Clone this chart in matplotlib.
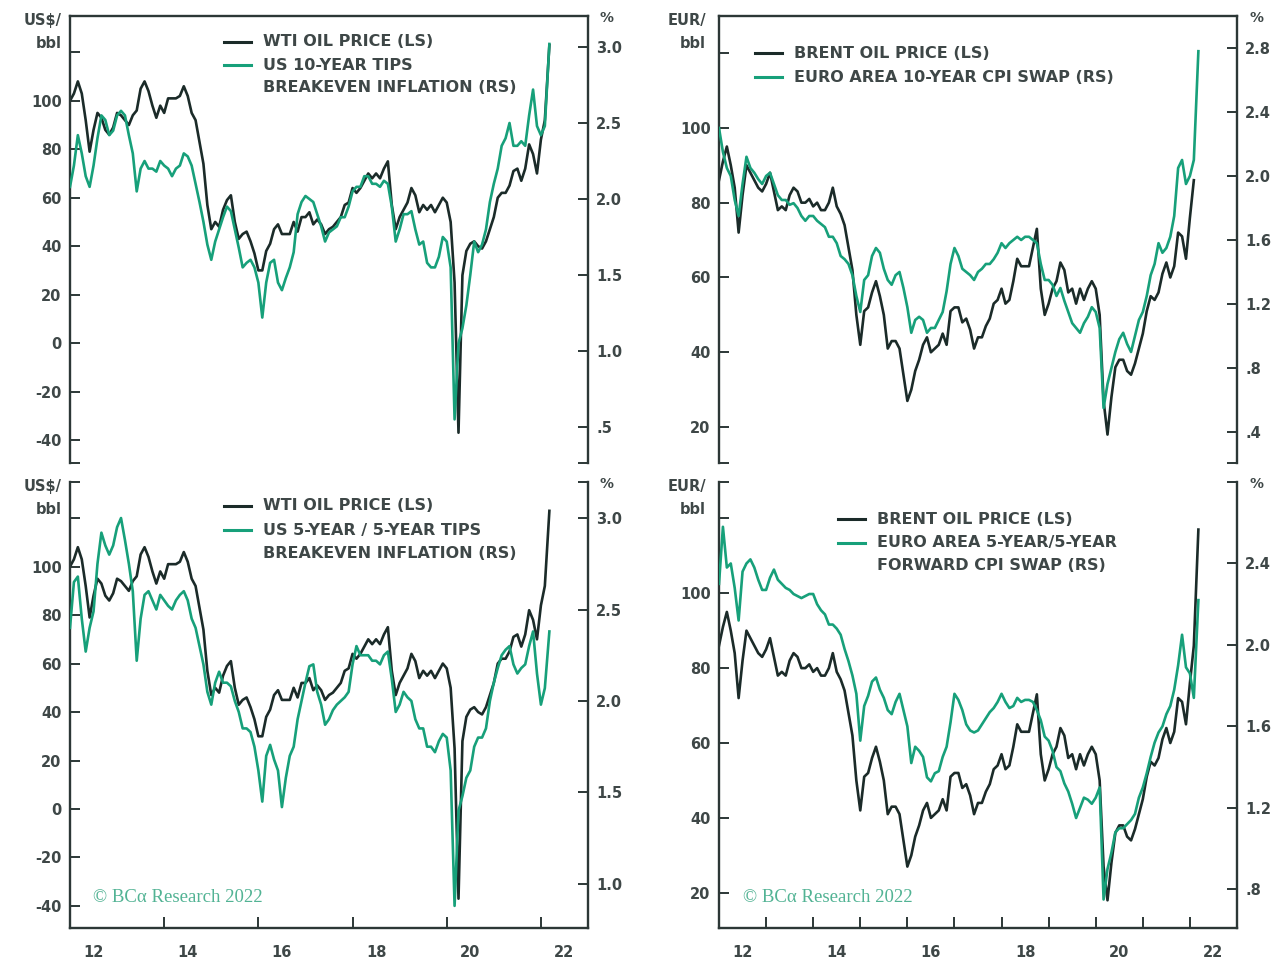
"""
Oil prices vs long-term inflation expectations, 2x2 panel chart (BCA style).
Writes out.png at 1286x961.
"""
import numpy as np
import matplotlib
matplotlib.use("Agg")
import matplotlib.pyplot as plt
from matplotlib.lines import Line2D

W, H = 1286, 961
DARK, GREEN = "#1b2b29", "#17a07a"
INK, SPINE, COPY = "#3e4747", "#2c3736", "#52b394"

# monthly readings Jan-2012 .. Feb-2022; the last entry is the early-Mar-2022 spike
months = np.append(2012 + np.arange(122) / 12, 2022.18)

wti = [100, 103, 108, 103, 92, 79, 88, 95, 93, 88, 86, 89,
       95, 94, 92, 90, 94, 96, 105, 108, 104, 98, 93, 98,
       95, 101, 101, 101, 102, 106, 102, 95, 92, 83, 74, 57,
       47, 50, 48, 55, 59, 61, 50, 43, 45, 46, 42, 37,
       30, 30, 38, 41, 47, 49, 45, 45, 45, 50, 46, 52,
       52, 54, 49, 51, 49, 45, 47, 48, 50, 52, 57, 58,
       64, 62, 64, 67, 70, 68, 70, 68, 72, 75, 57, 47,
       52, 55, 58, 64, 61, 54, 57, 55, 57, 54, 57, 60,
       58, 50, 25, -37, 28, 38, 41, 42, 40, 39, 42, 47,
       52, 60, 62, 62, 65, 71, 72, 67, 72, 82, 78, 70,
       84, 92, 123]

brent_eur = [86, 91, 95, 90, 84, 72, 82, 90, 88, 86, 84, 83,
             85, 88, 83, 78, 79, 78, 82, 84, 83, 80, 80, 81,
             79, 80, 78, 78, 80, 84, 79, 77, 74, 68, 62, 50,
             42, 51, 52, 56, 59, 55, 50, 41, 43, 43, 41, 34,
             27, 30, 35, 38, 42, 44, 40, 41, 42, 45, 42, 51,
             52, 52, 48, 49, 46, 41, 44, 44, 47, 49, 53, 54,
             57, 53, 54, 59, 65, 63, 63, 63, 68, 73, 57, 50,
             53, 57, 59, 64, 62, 56, 57, 53, 57, 54, 57, 59,
             57, 50, 27, 18, 28, 36, 38, 38, 35, 34, 37, 41,
             45, 51, 55, 54, 56, 61, 64, 60, 63, 72, 71, 65,
             76, 86, 117]

us_10y_be = [2.08, 2.22, 2.42, 2.30, 2.15, 2.08, 2.22, 2.40, 2.55, 2.52, 2.42, 2.45,
             2.55, 2.58, 2.55, 2.42, 2.30, 2.05, 2.20, 2.25, 2.20, 2.20, 2.18, 2.25,
             2.22, 2.20, 2.15, 2.20, 2.22, 2.30, 2.28, 2.22, 2.10, 1.98, 1.85, 1.70,
             1.60, 1.72, 1.80, 1.88, 1.95, 1.92, 1.80, 1.68, 1.55, 1.58, 1.60, 1.55,
             1.45, 1.22, 1.45, 1.58, 1.60, 1.45, 1.40, 1.48, 1.55, 1.65, 1.90, 1.98,
             2.02, 2.00, 1.98, 1.90, 1.82, 1.72, 1.78, 1.80, 1.82, 1.88, 1.88, 1.95,
             2.05, 2.08, 2.08, 2.15, 2.15, 2.10, 2.10, 2.08, 2.12, 2.10, 1.95, 1.72,
             1.80, 1.90, 1.90, 1.92, 1.80, 1.70, 1.72, 1.58, 1.55, 1.55, 1.62, 1.75,
             1.72, 1.55, 0.55, 1.05, 1.15, 1.30, 1.50, 1.72, 1.65, 1.70, 1.80, 1.98,
             2.10, 2.20, 2.35, 2.40, 2.50, 2.35, 2.35, 2.38, 2.35, 2.55, 2.72, 2.48,
             2.42, 2.48, 3.02]

us_5y5y_be = [2.40, 2.65, 2.68, 2.45, 2.27, 2.40, 2.49, 2.75, 2.92, 2.85, 2.80, 2.85,
              2.95, 3.00, 2.88, 2.75, 2.60, 2.22, 2.45, 2.58, 2.60, 2.55, 2.50, 2.58,
              2.55, 2.52, 2.50, 2.55, 2.58, 2.60, 2.55, 2.45, 2.40, 2.30, 2.20, 2.05,
              1.98, 2.10, 2.16, 2.10, 2.10, 2.08, 2.00, 1.94, 1.85, 1.85, 1.83, 1.75,
              1.62, 1.45, 1.70, 1.76, 1.68, 1.62, 1.42, 1.58, 1.70, 1.75, 1.90, 2.00,
              2.10, 2.19, 2.20, 2.05, 1.98, 1.87, 1.90, 1.95, 1.98, 2.00, 2.02, 2.05,
              2.20, 2.30, 2.25, 2.25, 2.25, 2.22, 2.22, 2.20, 2.25, 2.27, 2.12, 1.94,
              1.98, 2.05, 2.02, 2.00, 1.90, 1.85, 1.85, 1.75, 1.75, 1.72, 1.78, 1.82,
              1.80, 1.62, 0.88, 1.40, 1.48, 1.58, 1.62, 1.75, 1.80, 1.80, 1.85, 2.00,
              2.10, 2.18, 2.25, 2.28, 2.30, 2.20, 2.15, 2.18, 2.20, 2.30, 2.38, 2.15,
              1.98, 2.07, 2.38]

ea_10y_swap = [2.30, 2.15, 2.05, 2.00, 1.85, 1.75, 1.95, 2.12, 2.05, 2.02, 1.98, 1.95,
               2.00, 2.02, 1.95, 1.88, 1.85, 1.85, 1.82, 1.83, 1.80, 1.75, 1.72, 1.75,
               1.75, 1.72, 1.70, 1.68, 1.62, 1.62, 1.58, 1.50, 1.48, 1.45, 1.38, 1.25,
               1.15, 1.35, 1.38, 1.50, 1.55, 1.52, 1.42, 1.35, 1.32, 1.38, 1.40, 1.30,
               1.18, 1.02, 1.10, 1.12, 1.10, 1.02, 1.05, 1.05, 1.10, 1.15, 1.28, 1.45,
               1.55, 1.50, 1.42, 1.40, 1.38, 1.35, 1.40, 1.42, 1.45, 1.45, 1.48, 1.52,
               1.58, 1.55, 1.58, 1.60, 1.62, 1.60, 1.62, 1.62, 1.60, 1.58, 1.45, 1.35,
               1.35, 1.32, 1.25, 1.30, 1.22, 1.15, 1.08, 1.05, 1.02, 1.08, 1.12, 1.18,
               1.15, 1.05, 0.55, 0.70, 0.80, 0.90, 0.98, 1.02, 0.95, 0.90, 1.00, 1.10,
               1.15, 1.25, 1.38, 1.45, 1.58, 1.52, 1.55, 1.62, 1.75, 2.05, 2.10, 1.95,
               2.00, 2.10, 2.78]

ea_5y5y_swap = [2.30, 2.58, 2.38, 2.40, 2.28, 2.12, 2.36, 2.40, 2.42, 2.38, 2.32, 2.27,
                2.27, 2.33, 2.37, 2.32, 2.30, 2.28, 2.27, 2.25, 2.24, 2.23, 2.24, 2.25,
                2.25, 2.20, 2.17, 2.15, 2.10, 2.10, 2.08, 2.05, 1.98, 1.92, 1.85, 1.76,
                1.53, 1.70, 1.75, 1.82, 1.84, 1.78, 1.74, 1.68, 1.66, 1.72, 1.76, 1.68,
                1.60, 1.42, 1.50, 1.48, 1.45, 1.35, 1.33, 1.37, 1.38, 1.45, 1.50, 1.62,
                1.76, 1.73, 1.68, 1.61, 1.58, 1.57, 1.58, 1.61, 1.64, 1.67, 1.69, 1.72,
                1.76, 1.72, 1.69, 1.70, 1.74, 1.72, 1.73, 1.73, 1.72, 1.68, 1.63, 1.55,
                1.53, 1.48, 1.40, 1.38, 1.32, 1.28, 1.22, 1.15, 1.20, 1.25, 1.24, 1.22,
                1.25, 1.30, 0.75, 0.90, 0.98, 1.08, 1.10, 1.10, 1.12, 1.14, 1.17, 1.25,
                1.30, 1.37, 1.45, 1.52, 1.57, 1.60, 1.66, 1.70, 1.78, 1.90, 2.05, 1.89,
                1.86, 1.74, 2.22]

year_labels = ["12", "14", "16", "18", "20", "22"]
usd_ticks = [-40, -20, 0, 20, 40, 60, 80, 100, 120]
eur_ticks = [20, 40, 60, 80, 100, 120]

plt.rcParams.update({"font.family": "DejaVu Sans", "font.weight": "bold",
                     "font.size": 10.5, "text.color": INK})
fig = plt.figure(figsize=(W / 100, H / 100), dpi=100)


def px_box(x0, y0, x1, y1):
    return [x0 / W, 1 - y1 / H, (x1 - x0) / W, (y1 - y0) / H]


def ftext(x, y, s, **kw):
    fig.text(x / W, 1 - y / H, s, va="center", fontweight="bold", **kw)


def key(x_line, x_text, rows):
    # rows: (y, colour or None, text)
    for y, col, s in rows:
        if col:
            fig.add_artist(Line2D([x_line / W, (x_line + 27) / W], [1 - y / H] * 2,
                                  color=col, lw=2.2))
        ftext(x_text, y, s, ha="left", fontsize=11.5, color=INK)


def panel(box, t_oil, oil, t_rate, rate, ylim, yticks, rlim, rticks, rlabels,
          top, xmajor=None):
    ax = fig.add_axes(px_box(*box))
    ax.plot(t_oil, oil, color=DARK, lw=1.9)
    ax.set_xlim(2012, 2023)
    ax.set_ylim(*ylim)
    edge = ylim[0] if top else ylim[1]
    ax.set_yticks(yticks + [edge], ["" if v == 120 else str(v) for v in yticks] + [""])
    rx = ax.twinx()
    rx.plot(t_rate, rate, color=GREEN, lw=1.9)
    rx.set_ylim(*rlim)
    redge = rlim[0] if top else rlim[1]
    rx.set_yticks(rticks + [redge], rlabels + [""])
    for a in (ax, rx):
        a.tick_params(axis="y", direction="in", length=7, width=1.4, color=SPINE,
                      labelcolor=INK, labelsize=10.5, pad=6)
        for s in a.spines.values():
            s.set_visible(False)
            s.set_color(SPINE)
            s.set_linewidth(1.7)
    ax.spines["left"].set_visible(True)
    rx.spines["right"].set_visible(True)
    ax.spines["top" if top else "bottom"].set_visible(True)
    if top:
        ax.set_xticks([])
    else:
        ax.set_xticks(xmajor, [""] * len(xmajor))
        ax.set_xticks(np.arange(2012.5, 2023, 2), year_labels, minor=True)
        ax.tick_params(axis="x", which="major", direction="in", length=8, width=1.4,
                       color=SPINE)
        ax.tick_params(axis="x", which="minor", length=0, pad=12, labelcolor=INK,
                       labelsize=10.5)
    return ax, rx


# --- top left: WTI vs US 10y breakeven ---
panel((70, 16, 588, 463), months, wti, months, us_10y_be,
      (-49.5, 135), usd_ticks, (0.263, 3.204), [0.5, 1.0, 1.5, 2.0, 2.5, 3.0],
      [".5", "1.0", "1.5", "2.0", "2.5", "3.0"], top=True)
key(224, 263, [(42, DARK, "WTI OIL PRICE (LS)"),
               (65, GREEN, "US 10-YEAR TIPS"),
               (88, None, "BREAKEVEN INFLATION (RS)")])

# --- top right: Brent (EUR) vs euro area 10y CPI swap ---
panel((719, 16, 1237, 463), months[:-1], brent_eur[:-1], months, ea_10y_swap,
      (10.4, 129.9), eur_ticks, (0.206, 3.0), [0.4, 0.8, 1.2, 1.6, 2.0, 2.4, 2.8],
      [".4", ".8", "1.2", "1.6", "2.0", "2.4", "2.8"], top=True)
key(755, 794, [(53, DARK, "BRENT OIL PRICE (LS)"),
               (77, GREEN, "EURO AREA 10-YEAR CPI SWAP (RS)")])

# --- bottom left: WTI vs US 5y5y breakeven ---
panel((70, 482, 588, 928), months, wti, months, us_5y5y_be,
      (-49.1, 134.9), usd_ticks, (0.759, 3.197), [1.0, 1.5, 2.0, 2.5, 3.0],
      ["1.0", "1.5", "2.0", "2.5", "3.0"], top=False, xmajor=[2014, 2016, 2018, 2020, 2022])
key(224, 263, [(506, DARK, "WTI OIL PRICE (LS)"),
               (530, GREEN, "US 5-YEAR / 5-YEAR TIPS"),
               (554, None, "BREAKEVEN INFLATION (RS)")])

# --- bottom right: Brent (EUR) vs euro area 5y5y forward CPI swap ---
panel((719, 482, 1237, 928), months, brent_eur, months, ea_5y5y_swap,
      (10.6, 129.7), eur_ticks, (0.61, 2.8), [0.8, 1.2, 1.6, 2.0, 2.4],
      [".8", "1.2", "1.6", "2.0", "2.4"], top=False, xmajor=list(range(2013, 2023)))
key(838, 877, [(519, DARK, "BRENT OIL PRICE (LS)"),
               (543, GREEN, "EURO AREA 5-YEAR/5-YEAR"),
               (566, None, "FORWARD CPI SWAP (RS)")])

# unit labels
for x, y0, unit in [(62, 20, "US$/"), (706, 20, "EUR/"), (62, 486, "US$/"), (706, 486, "EUR/")]:
    ftext(x, y0, unit, ha="right", fontsize=10.5, color=INK)
    ftext(x, y0 + 23, "bbl", ha="right", fontsize=10.5, color=INK)
for x, y in [(600, 18), (1249, 18), (600, 484), (1249, 484)]:
    ftext(x, y, "%", ha="left", fontsize=10, color=INK)

for x in (93, 743):
    fig.text(x / W, 1 - 897 / H, "© BCα Research 2022", ha="left", va="center",
             fontsize=13.5, color=COPY, family=["Liberation Serif", "DejaVu Serif"],
             fontweight="normal")

fig.savefig("out.png", dpi=100)
